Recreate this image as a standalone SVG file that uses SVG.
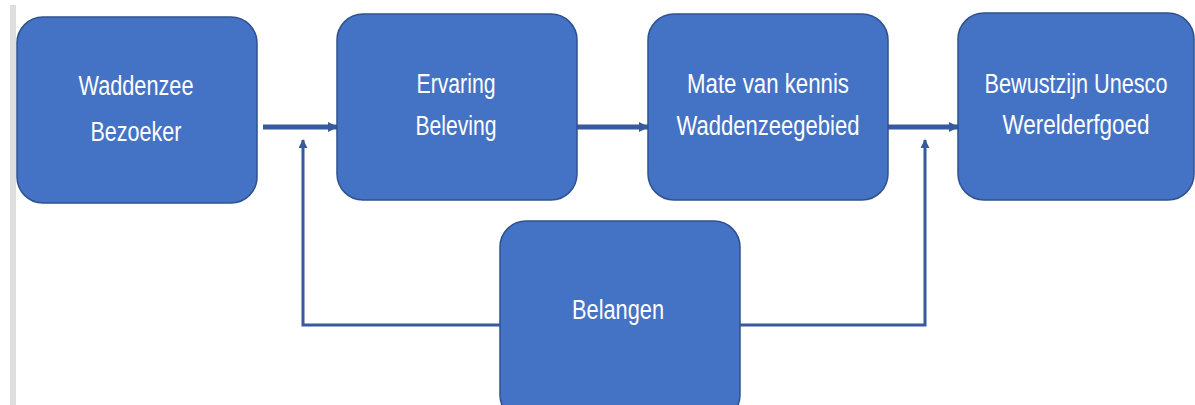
<svg xmlns="http://www.w3.org/2000/svg" width="1195" height="405" viewBox="0 0 1195 405">
<style>
.box{fill:#4472C4;stroke:#2F528F;stroke-width:1.5}
.t{font-family:"Liberation Sans",Arial,sans-serif;font-size:27px;fill:#FFFFFF;text-anchor:middle}
.main{fill:none;stroke:#365A9B;stroke-width:5}
.fb{fill:none;stroke:#365A9B;stroke-width:3}
</style>
<defs>
<marker id="ah" viewBox="0 0 10 10" refX="9" refY="5" markerWidth="2" markerHeight="2" orient="auto" markerUnits="strokeWidth">
<path d="M0,0 L10,5 L0,10 z" fill="#365A9B"/>
</marker>
<marker id="ah2" viewBox="0 0 10 10" refX="9" refY="5" markerWidth="3" markerHeight="3" orient="auto" markerUnits="strokeWidth">
<path d="M0,0 L10,5 L0,10 z" fill="#365A9B"/>
</marker>
</defs>
<rect x="10" y="5" width="6" height="400" fill="#DEDEDE"/>
<g id="connectors">
<line class="main" x1="263" y1="127" x2="337" y2="127" marker-end="url(#ah)"/>
<line class="main" x1="575" y1="127" x2="648" y2="127" marker-end="url(#ah)"/>
<line class="main" x1="887" y1="127" x2="958" y2="127" marker-end="url(#ah)"/>
<polyline class="fb" points="500,325 303,325 303,140" marker-end="url(#ah2)"/>
<polyline class="fb" points="740,325 925,325 925,140" marker-end="url(#ah2)"/>
</g>
<g id="n1">
<rect class="box" x="17" y="17" width="240" height="186" rx="26"/>
<text class="t" x="136" y="95" textLength="115" lengthAdjust="spacingAndGlyphs">Waddenzee</text>
<text class="t" x="136" y="141" textLength="91" lengthAdjust="spacingAndGlyphs">Bezoeker</text>
</g>
<g id="n2">
<rect class="box" x="337" y="14" width="240" height="186" rx="26"/>
<text class="t" x="456" y="93" textLength="79" lengthAdjust="spacingAndGlyphs">Ervaring</text>
<text class="t" x="456" y="135" textLength="81" lengthAdjust="spacingAndGlyphs">Beleving</text>
</g>
<g id="n3">
<rect class="box" x="648" y="14" width="240" height="186" rx="26"/>
<text class="t" x="768" y="93" textLength="162" lengthAdjust="spacingAndGlyphs">Mate van kennis</text>
<text class="t" x="768" y="135" textLength="183" lengthAdjust="spacingAndGlyphs">Waddenzeegebied</text>
</g>
<g id="n4">
<rect class="box" x="958" y="13" width="236" height="187" rx="26"/>
<text class="t" x="1076" y="93" textLength="183" lengthAdjust="spacingAndGlyphs">Bewustzijn Unesco</text>
<text class="t" x="1076" y="134" textLength="147" lengthAdjust="spacingAndGlyphs">Werelderfgoed</text>
</g>
<g id="n5">
<rect class="box" x="500" y="221" width="240" height="200" rx="26"/>
<text class="t" x="618" y="319" textLength="92" lengthAdjust="spacingAndGlyphs">Belangen</text>
</g>
</svg>
